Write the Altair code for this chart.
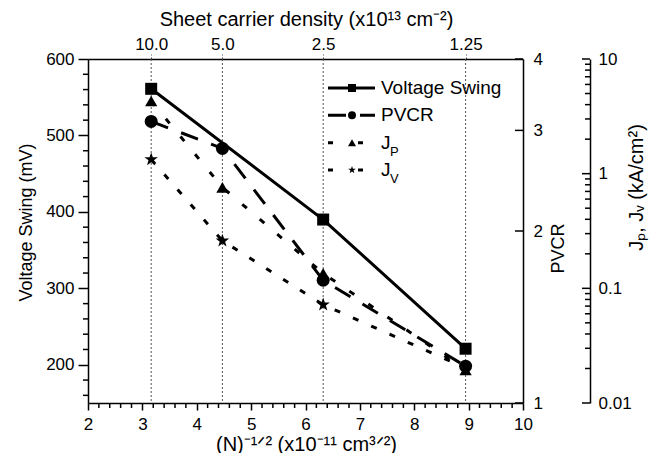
import altair as alt
import pandas as pd

FONT = "Liberation Sans"
W, H = 435, 344

# ---- data ----
x_pos = [3.162, 4.472, 6.325, 8.944]
top_labels = ["10.0", "5.0", "2.5", "1.25"]
vs_x = [3.162, 6.325, 8.944]
vs_vals = [561, 390, 221]
pvcr_vals = [3.11, 2.79, 1.64, 1.16]
jp_vals = [4.3, 0.76, 0.135, 0.0194]
jv_vals = [1.33, 0.26, 0.072, 0.0202]

x_major = [2, 3, 4, 5, 6, 7, 8, 9, 10]
x_minor = [round(2 + 0.2 * i, 1) for i in range(41) if i % 5]
vs_major = [200, 300, 400, 500, 600]
vs_minor = [v for v in range(160, 600, 20) if v % 100]
pv_ticks = [1, 2, 3, 4]
j_major = [0.01, 0.1, 1, 10]
j_minor = [round(m * d, 4) for d in (0.01, 0.1, 1) for m in range(2, 10)]

legend_series = ["Voltage Swing", "PVCR", "J_P", "J_V"]
legend_text = ["Voltage Swing", "PVCR", "J", "J"]
legend_sub = ["", "", "P", "V"]

STAR = ("M0,-1L0.235,-0.324L0.951,-0.309L0.380,0.124L0.588,0.809L0,0.4"
        "L-0.588,0.809L-0.380,0.124L-0.951,-0.309L-0.235,-0.324Z")

xscale = alt.Scale(domain=[2, 10], nice=False, zero=False)
vs_scale = alt.Scale(domain=[150, 600], nice=False, zero=False)
pv_scale = alt.Scale(type="log", domain=[1, 4], nice=False)
j_scale = alt.Scale(type="log", domain=[0.01, 10], nice=False)
OFF = 67


def X(axis=None):
    return alt.X("x:Q", scale=xscale, axis=axis)


def Y(scale, axis=None):
    return alt.Y("y:Q", scale=scale, axis=axis)


# ---- top axis + dotted guide lines ----
label_expr = "[%s][indexof([%s], datum.value)]" % (
    ",".join("'%s'" % s for s in top_labels), ",".join(str(v) for v in x_pos))
top_axis = alt.Axis(orient="top", values=x_pos, labelExpr=label_expr, tickSize=5,
                    tickDash=[2, 2], tickColor="#555", tickWidth=1, labelPadding=5,
                    labelBaseline="alphabetic", labelFlush=False,
                    title="Sheet carrier density (x10¹³ cm⁻²)", titleFontSize=20,
                    titleX=218, titleY=-40, titleBaseline="middle")
grid = alt.Chart(pd.DataFrame({"x": x_pos})).mark_rule(
    color="#555", strokeDash=[2, 2], strokeWidth=1).encode(x=X(top_axis))

# ---- Voltage swing (left axis) ----
vs_df = pd.DataFrame({"x": vs_x, "y": vs_vals})
vs_axis = alt.Axis(orient="left", values=vs_major, tickSize=10, labelPadding=4,
                   labelFlush=False, title="Voltage Swing (mV)", titleAngle=270,
                   titleBaseline="middle", titleX=-62, titleY=163)
x_axis = alt.Axis(orient="bottom", values=x_major, tickSize=7, labelPadding=6,
                  labelBaseline="top", labelFlush=False,
                  title="(N)⁻¹ᐟ² (x10⁻¹¹ cm³ᐟ²)", titleFontSize=20,
                  titleX=218, titleY=41, titleBaseline="middle")
vs_line = alt.Chart(vs_df).mark_line(color="black", strokeWidth=3).encode(
    x=X(x_axis), y=Y(vs_scale, vs_axis))
vs_pts = alt.Chart(vs_df).mark_point(shape="square", filled=True, size=144,
                                     color="black", opacity=1).encode(
    x=X(), y=Y(vs_scale))
vs_minor_ticks = alt.Chart(pd.DataFrame({"y": vs_minor})).mark_rule(
    color="black", strokeWidth=1.5).encode(
    y=Y(vs_scale), x=alt.value(-5), x2=alt.value(0))
x_minor_ticks = alt.Chart(pd.DataFrame({"x": x_minor})).mark_rule(
    color="black", strokeWidth=1.5).encode(x=X(), y=alt.value(H), y2=alt.value(H + 5))

# ---- PVCR (right axis, log) ----
pv_df = pd.DataFrame({"x": x_pos, "y": pvcr_vals})
pv_axis = alt.Axis(orient="right", values=pv_ticks, ticks=False, tickSize=0,
                   labelPadding=10, format="d", labelFlush=False, title="PVCR",
                   titleAngle=270, titleBaseline="middle", titleX=35, titleY=189)
pv_line = alt.Chart(pv_df).mark_line(color="black", strokeWidth=3,
                                     strokeDash=[18, 14]).encode(
    x=X(), y=Y(pv_scale, pv_axis))
pv_pts = alt.Chart(pv_df).mark_point(shape="circle", filled=True, size=169,
                                     color="black", opacity=1).encode(
    x=X(), y=Y(pv_scale))
pv_tick_marks = alt.Chart(pd.DataFrame({"y": pv_ticks})).mark_rule(
    color="black", strokeWidth=1.5).encode(
    y=Y(pv_scale), x=alt.value(W - 8), x2=alt.value(W))

# ---- J_P, J_V (far right axis, log) ----
jp_df = pd.DataFrame({"x": x_pos, "y": jp_vals})
jv_df = pd.DataFrame({"x": x_pos, "y": jv_vals})
j_axis = alt.Axis(orient="right", offset=OFF, values=j_major, ticks=False, tickSize=0,
                  labelPadding=8, format="~g", labelFlush=False,
                  title="Jₚ, Jᵥ (kA/cm²)", titleFontSize=20, titleAngle=270,
                  titleBaseline="middle", titleX=46, titleY=128)
jp_line = alt.Chart(jp_df).mark_line(color="black", strokeWidth=3,
                                     strokeDash=[6, 17]).encode(
    x=X(), y=Y(j_scale, j_axis))
jv_line = alt.Chart(jv_df).mark_line(color="black", strokeWidth=3,
                                     strokeDash=[6, 14]).encode(
    x=X(), y=Y(j_scale))
jp_pts = alt.Chart(jp_df).mark_point(shape="triangle-up", filled=True, size=150,
                                     color="black", opacity=1).encode(
    x=X(), y=Y(j_scale))
jv_pts = alt.Chart(jv_df).mark_point(shape=STAR, filled=True, size=200,
                                     color="black", opacity=1).encode(
    x=X(), y=Y(j_scale))
j_major_marks = alt.Chart(pd.DataFrame({"y": j_major})).mark_rule(
    color="black", strokeWidth=1.5).encode(
    y=Y(j_scale), x=alt.value(W + OFF - 8), x2=alt.value(W + OFF))
j_minor_marks = alt.Chart(pd.DataFrame({"y": j_minor})).mark_rule(
    color="black", strokeWidth=1.5).encode(
    y=Y(j_scale), x=alt.value(W + OFF - 5), x2=alt.value(W + OFF))

# ---- legend ----
leg_df = pd.DataFrame({"s": legend_series, "t": legend_text, "sub": legend_sub})
ly = alt.Y("s:N", scale=alt.Scale(type="point", domain=legend_series,
                                  range=[29, 111], padding=0), axis=None)
leg_lines = alt.Chart(leg_df).mark_rule(color="black", strokeWidth=3).encode(
    y=ly, x=alt.value(240), x2=alt.value(287),
    strokeDash=alt.StrokeDash("s:N", scale=alt.Scale(
        domain=legend_series, range=[[1, 0], [18, 14], [5, 25], [5, 25]]), legend=None))
leg_pts = alt.Chart(leg_df).mark_point(filled=True, opacity=1, color="black",
                                       size=64).encode(
    y=ly, x=alt.value(264),
    shape=alt.Shape("s:N", scale=alt.Scale(
        domain=legend_series, range=["square", "circle", "triangle-up", STAR]),
        legend=None))
leg_text = alt.Chart(leg_df).mark_text(align="left", baseline="middle", fontSize=19,
                                       font=FONT, color="black").encode(
    y=ly, x=alt.value(293), text="t:N")
leg_sub = alt.Chart(leg_df).mark_text(align="left", baseline="middle", fontSize=13,
                                      font=FONT, color="black", dy=9).encode(
    y=ly, x=alt.value(302), text="sub:N")

chart = alt.layer(
    grid, vs_line, pv_line, jp_line, jv_line,
    vs_pts, pv_pts, jp_pts, jv_pts,
    vs_minor_ticks, x_minor_ticks, pv_tick_marks, j_major_marks, j_minor_marks,
    leg_lines, leg_pts, leg_text, leg_sub,
).resolve_scale(
    y="independent", shape="independent", strokeDash="independent"
).resolve_axis(x="independent", y="independent").properties(
    width=W, height=H,
    autosize=alt.AutoSizeParams(type="none"),
    padding={"left": 80, "top": 51, "right": 130, "bottom": 50},
).configure_axis(
    domainColor="black", domainWidth=1.5, tickColor="black", tickWidth=1.5,
    labelColor="black", labelFont=FONT, labelFontSize=17, titleFont=FONT,
    titleFontSize=18, titleFontWeight="normal", titleColor="black", grid=False,
).configure_view(strokeWidth=0)

chart.save("out.html", embed_options={"renderer": "svg", "actions": False})
